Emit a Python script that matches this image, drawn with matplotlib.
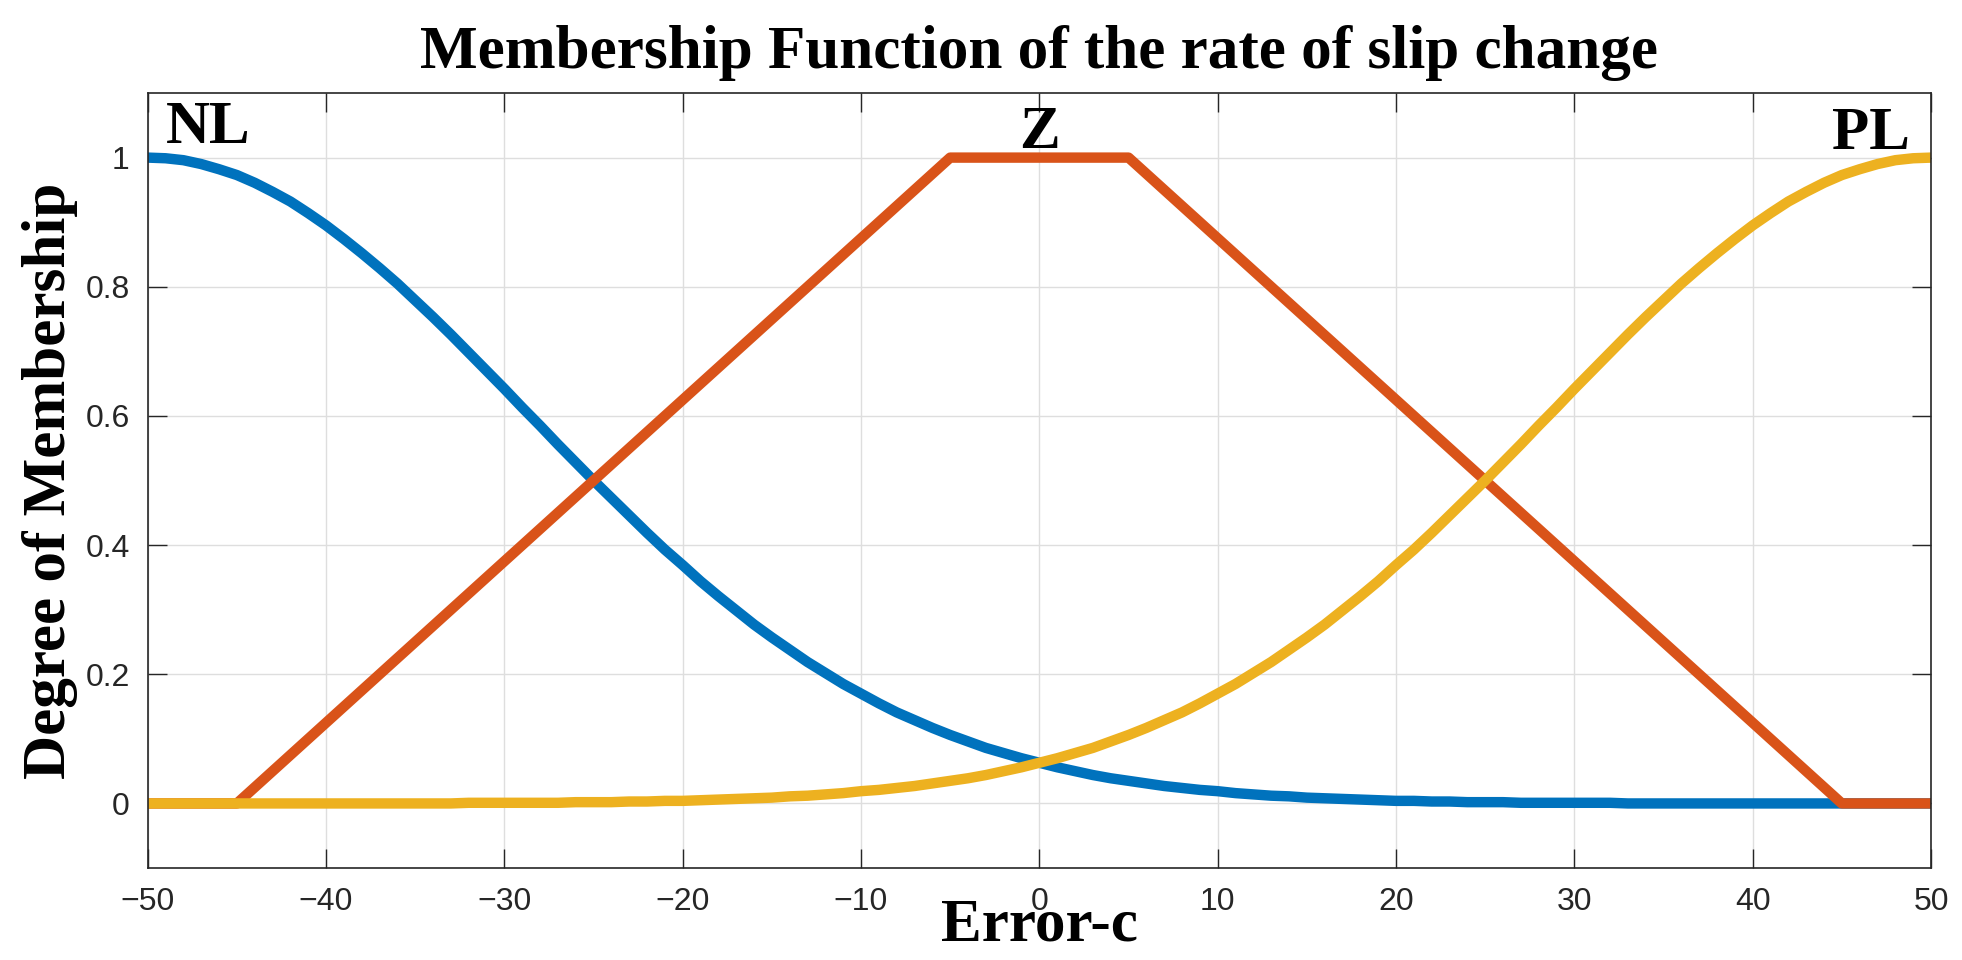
import numpy as np
import matplotlib.pyplot as plt

# membership values, one sample per unit of Error-c
error_c = np.arange(-50, 51, 1)
nl_mu = [1.0, 0.999, 0.996, 0.990, 0.982, 0.973, 0.961, 0.947, 0.932, 0.914,
         0.895, 0.874, 0.852, 0.829, 0.805, 0.779, 0.753, 0.726, 0.698, 0.670,
         0.642, 0.613, 0.585, 0.556, 0.528, 0.500, 0.473, 0.446, 0.419, 0.393,
         0.369, 0.344, 0.321, 0.299, 0.277, 0.257, 0.238, 0.219, 0.202, 0.185,
         0.170, 0.155, 0.141, 0.129, 0.117, 0.106, 0.096, 0.086, 0.078, 0.070,
         0.063, 0.056, 0.050, 0.044, 0.039, 0.035, 0.031, 0.027, 0.024, 0.021,
         0.019, 0.016, 0.014, 0.012, 0.011, 0.009, 0.008, 0.007, 0.006, 0.005,
         0.004, 0.004, 0.003, 0.003, 0.002, 0.002, 0.002, 0.001, 0.001, 0.001,
         0.001, 0.001, 0.001, 0.0, 0.0, 0.0, 0.0, 0.0, 0.0, 0.0,
         0.0, 0.0, 0.0, 0.0, 0.0, 0.0, 0.0, 0.0, 0.0, 0.0, 0.0]
pl_mu = [0.0, 0.0, 0.0, 0.0, 0.0, 0.0, 0.0, 0.0, 0.0, 0.0,
         0.0, 0.0, 0.0, 0.0, 0.0, 0.0, 0.0, 0.0, 0.001, 0.001, 0.001,
         0.001, 0.001, 0.001, 0.002, 0.002, 0.002, 0.003, 0.003, 0.004, 0.004,
         0.005, 0.006, 0.007, 0.008, 0.009, 0.011, 0.012, 0.014, 0.016, 0.019,
         0.021, 0.024, 0.027, 0.031, 0.035, 0.039, 0.044, 0.050, 0.056, 0.063,
         0.070, 0.078, 0.086, 0.096, 0.106, 0.117, 0.129, 0.141, 0.155, 0.170,
         0.185, 0.202, 0.219, 0.238, 0.257, 0.277, 0.299, 0.321, 0.344, 0.369,
         0.393, 0.419, 0.446, 0.473, 0.500, 0.528, 0.556, 0.585, 0.613, 0.642,
         0.670, 0.698, 0.726, 0.753, 0.779, 0.805, 0.829, 0.852, 0.874, 0.895,
         0.914, 0.932, 0.947, 0.961, 0.973, 0.982, 0.990, 0.996, 0.999, 1.0]
# Z is a trapezoid: corner points
z_x = [-50, -45, -5, 5, 45, 50]
z_mu = [0, 0, 1, 1, 0, 0]

mf_names = ['NL', 'Z', 'PL']
colors = ['#0072BD', '#D95319', '#EDB120']

serif = 'Liberation Serif'
sans = 'Liberation Sans'
dark = '#262626'

fig = plt.figure(figsize=(19.62, 9.6), dpi=100)
ax = fig.add_axes([0.0753, 0.0958, 0.9089, 0.8073])

ax.plot(error_c, nl_mu, color=colors[0], lw=7.5, solid_capstyle='butt')
ax.plot(z_x, z_mu, color=colors[1], lw=7.5, solid_capstyle='butt')
ax.plot(error_c, pl_mu, color=colors[2], lw=7.5, solid_capstyle='butt')

ax.set_xlim(-50, 50)
ax.set_ylim(-0.1, 1.1)
ax.set_xticks(np.arange(-50, 51, 10))
ax.set_yticks([0, 0.2, 0.4, 0.6, 0.8, 1.0])
ax.set_yticklabels(['0', '0.2', '0.4', '0.6', '0.8', '1'])

ax.grid(True, color='#dedede', lw=1)
ax.set_axisbelow(True)
ax.tick_params(axis='both', direction='in', length=14, width=1, color=dark,
               labelsize=23, labelcolor=dark, top=True, right=True)
ax.tick_params(axis='x', pad=14)
ax.tick_params(axis='y', pad=13)
for lab in ax.get_xticklabels() + ax.get_yticklabels():
    lab.set_fontfamily(sans)
for sp in ax.spines.values():
    sp.set_color(dark)
    sp.set_linewidth(1.2)

# labels of the membership functions
ax.text(-49, 1.022, mf_names[0], fontfamily=serif, fontweight='bold',
        fontsize=44, ha='left', va='baseline')
ax.text(0, 1.015, mf_names[1], fontfamily=serif, fontweight='bold',
        fontsize=44, ha='center', va='baseline')
ax.text(48.8, 1.014, mf_names[2], fontfamily=serif, fontweight='bold',
        fontsize=44, ha='right', va='baseline')

ax.set_title('Membership Function of the rate of slip change',
             fontfamily=serif, fontweight='bold', fontsize=44, pad=18)
ax.set_xlabel('Error-c', fontfamily=serif, fontweight='bold', fontsize=44)
ax.set_ylabel('Degree of Membership', fontfamily=serif, fontweight='bold',
              fontsize=44)
ax.xaxis.set_label_coords(0.5, -0.038)
ax.yaxis.set_label_coords(-0.039, 0.5)

fig.savefig('out.png', dpi=100)
